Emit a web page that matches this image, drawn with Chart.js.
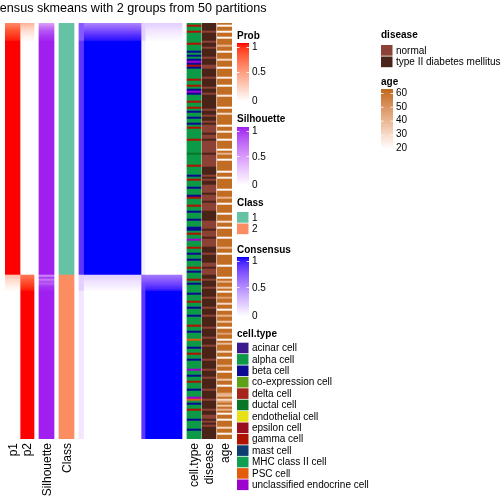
<!DOCTYPE html>
<html>
<head>
<meta charset="utf-8">
<script src="https://cdn.jsdelivr.net/npm/chart.js@4.4.1/dist/chart.umd.min.js"></script>
<style>
  html, body { margin: 0; padding: 0; background: #fff; }
</style>
</head>
<body>
<canvas id="chart" width="504" height="504"></canvas>
<script>
// ---- data ----
const titleText = 'Consensus skmeans with 2 groups from 50 partitions';
const groupSizes = [126, 82];
const classLabels = ['1', '2'];

// values are run-length encoded: [number of rows, value], top to bottom
const prob1Runs = [[1,0.62],[1,0.68],[1,0.74],[1,0.8],[1,0.84],[1,0.88],[1,0.91],[1,0.94],[1,0.96],[117,1],
                   [1,0.3],[1,0.26],[1,0.2],[1,0.17],[1,0.12],[1,0.09],[1,0.06],[1,0.03],[74,0]];
const prob2Runs = [[1,0.38],[1,0.32],[1,0.26],[1,0.2],[1,0.16],[1,0.12],[1,0.09],[1,0.06],[1,0.04],[117,0],
                   [1,0.7],[1,0.74],[1,0.8],[1,0.83],[1,0.88],[1,0.91],[1,0.94],[1,0.97],[74,1]];
const silhouetteRuns = [[1,0.5],[1,0.6],[1,0.7],[1,0.78],[1,0.84],[1,0.88],[1,0.92],[1,0.95],[1,0.97],[117,1],
                        [1,0.62],[1,0.9],[1,0.7],[1,0.85],[1,0.8],[1,0.92],[1,0.96],[1,0.98],[74,1]];
// consensus matrix, four column blocks (weak / strong members of group 1, then group 2)
const consensusA = [[9,0.72],[117,0.86],[8,0.2],[74,0.1]];
const consensusB = [[1,0.55],[1,0.62],[1,0.68],[1,0.74],[1,0.8],[1,0.85],[1,0.9],[1,0.93],[1,0.96],[117,1],
                    [1,0.2],[1,0.18],[1,0.15],[1,0.12],[1,0.1],[1,0.08],[1,0.05],[1,0.03],[74,0]];
const consensusC = [[9,0.2],[117,0.06],[1,0.62],[1,0.66],[1,0.7],[1,0.74],[1,0.78],[1,0.8],[1,0.82],[1,0.84],[74,0.86]];
const consensusD = [[1,0.2],[1,0.18],[1,0.15],[1,0.12],[1,0.1],[1,0.08],[1,0.06],[1,0.04],[1,0.02],[117,0],
                    [1,0.6],[1,0.65],[1,0.7],[1,0.75],[1,0.8],[1,0.85],[1,0.9],[1,0.95],[74,1]];

// one character per row
const cellTypeCodes =
  'AGAAGAAAAA' + 'GAAABABABN' + 'BGBAAAAAGA' + 'AGABNBAAAG' + 'AAGABAABAA' +
  'BAGAAAAAGA' + 'AAAAAUAAAA' + 'AGAAAABAGA' + 'AABAAABGAA' + 'AGAABAAABA' +
  'AABBAGAANA' + 'AAGAABAABA' + 'AAGABA' +
  'AAGABAAAAB' + 'AAAGAABAAA' + 'BAAAAGAABA' + 'AASAAABAAG' + 'AABAAAANAA' +
  'BAAGAAABAA' + 'ANSABAAGAA' + 'AABAAAABAA' + 'AA';
const diseaseCodes =
  'TTTTNTTTTN' + 'TTNTTTTNTT' + 'TNNTTTTNTT' + 'TTNTTNTTTT' + 'TTTNTTNTTN' +
  'TNNNNTNNTN' + 'NNNNNTNNNN' + 'NNTTTTNTNT' + 'TNNNNTNNNT' + 'NNNNTTTTTN' +
  'NNNTNNNTNN' + 'NNTTTNTTTT' + 'NNTNNN' +
  'TTNTTTNTTT' + 'TNTTTTNTTT' + 'NTTTTTNTTT' + 'TNTTTNTTTT' + 'TTNTTTTNTT' +
  'TNTTTTTNTT' + 'TTNTTTTNTT' + 'NNTNTNTTTT' + 'TT';
const ages = [
  59,22,59,59,23,59,59,22,59,59, 59,40,59,59,22,59,59,59,30,59, 59,59,22,59,59,59,59,25,59,59,
  59,22,59,59,59,59,26,59,59,59, 59,59,22,59,59,30,59,59,59,59, 59,22,59,59,24,59,59,59,22,59,
  59,59,59,22,59,40,59,59,22,59, 59,59,59,59,22,59,59,24,59,59, 59,59,59,22,59,59,59,40,59,59,
  22,59,59,59,59,22,59,59,59,28, 59,59,22,59,59,59,59,22,59,59, 59,59,40,59,59,22,59,59,59,59,
  59,22,59,59,59,59,
  59,22,59,40,59,59,35,59,22,59, 59,45,59,59,30,59,59,22,59,59, 40,59,59,35,59,59,22,59,59,45,
  59,59,22,59,38,59,59,59,30,59, 59,22,59,59,59,40,59,59,22,59, 59,59,35,59,59,22,59,59,59,42,
  38,59,30,45,59,35,59,40,59,22, 59,59,22,59,59,59,30,59,59,22, 59,59
];

const cellTypeNames = ['acinar cell','alpha cell','beta cell','co-expression cell','delta cell','ductal cell',
  'endothelial cell','epsilon cell','gamma cell','mast cell','MHC class II cell','PSC cell','unclassified endocrine cell'];
const cellTypeKeys = ['a','A','B','X','D','U','E','P','G','M','H','S','N'];
const cellTypeColors = ['#3A1A8C','#0D9A48','#0A0A92','#5EA018','#A5251A','#097526',
  '#E8E016','#9A0E22','#B01200','#0C3C70','#0F9E52','#E25C0C','#9C04CE'];
const diseaseNames = ['normal', 'type II diabetes mellitus'];
const diseaseKeys = ['N', 'T'];
const diseaseColors = ['#8C4236', '#4A2418'];
const ageBreaks = [20, 30, 40, 50, 60];

// ---- colour helpers (Lab interpolation, like colorRamp2) ----
function hexRgb(h) { h = h.replace('#',''); return [0,2,4].map(i => parseInt(h.substr(i,2),16)); }
function toLin(c) { c /= 255; return c <= 0.04045 ? c/12.92 : Math.pow((c+0.055)/1.055, 2.4); }
function fromLin(c) { c = c <= 0.0031308 ? 12.92*c : 1.055*Math.pow(c,1/2.4)-0.055; return Math.max(0,Math.min(255,Math.round(c*255))); }
function rgbLab(rgb) {
  const [r,g,b] = rgb.map(toLin);
  let x = (0.4124*r + 0.3576*g + 0.1805*b)/0.95047, y = 0.2126*r + 0.7152*g + 0.0722*b, z = (0.0193*r + 0.1192*g + 0.9505*b)/1.08883;
  const f = t => t > 0.008856 ? Math.cbrt(t) : 7.787*t + 16/116;
  x = f(x); y = f(y); z = f(z);
  return [116*y-16, 500*(x-y), 200*(y-z)];
}
function labRgb([L,a,bb]) {
  let y = (L+16)/116, x = a/500 + y, z = y - bb/200;
  const fi = t => t*t*t > 0.008856 ? t*t*t : (t - 16/116)/7.787;
  x = fi(x)*0.95047; y = fi(y); z = fi(z)*1.08883;
  const r = 3.2406*x - 1.5372*y - 0.4986*z, g = -0.9689*x + 1.8758*y + 0.0415*z, b = 0.0557*x - 0.2040*y + 1.0570*z;
  return [fromLin(r), fromLin(g), fromLin(b)];
}
function ramp(c0, c1) {
  const l0 = rgbLab(hexRgb(c0)), l1 = rgbLab(hexRgb(c1));
  return t => { t = Math.max(0, Math.min(1, t)); const c = labRgb(l0.map((v,i) => v + (l1[i]-v)*t)); return `rgb(${c[0]},${c[1]},${c[2]})`; };
}
const probCol = ramp('#FFFFFF', '#FF0000');
const silCol = ramp('#FFFFFF', '#A020F0');
const consCol = ramp('#FFFFFF', '#0000FF');
const ageRamp = ramp('#FFFFFF', '#C0691E');
const ageCol = a => ageRamp((a - 20) / 40);
const classColors = ['#66C2A5', '#FC8D62'];

function expand(runs) { const out = []; runs.forEach(([n, v]) => { for (let i = 0; i < n; i++) out.push(v); }); return out; }

const nRows = groupSizes[0] + groupSizes[1];
const classOfRow = [];
groupSizes.forEach((n, g) => { for (let i = 0; i < n; i++) classOfRow.push(g); });

// ---- layout of heatmap columns (x in pixel units of the body) ----
const columns = [
  { label: 'p1', x: 7.5, w: 15, colors: expand(prob1Runs).map(probCol) },
  { label: 'p2', x: 22, w: 14, colors: expand(prob2Runs).map(probCol) },
  { label: 'Silhouette', x: 41.5, w: 15, colors: expand(silhouetteRuns).map(silCol) },
  { label: 'Class', x: 61.5, w: 15, colors: classOfRow.map(g => classColors[g]) },
  { label: null, x: 76.25, w: 4.5, colors: expand(consensusA).map(consCol) },
  { label: null, x: 107.25, w: 57.5, colors: expand(consensusB).map(consCol) },
  { label: null, x: 138, w: 4, colors: expand(consensusC).map(consCol) },
  { label: null, x: 158.5, w: 37, colors: expand(consensusD).map(consCol) },
  { label: 'cell.type', x: 189, w: 14, colors: cellTypeCodes.split('').slice(0, nRows).map(k => cellTypeColors[cellTypeKeys.indexOf(k)]) },
  { label: 'disease', x: 204, w: 14, colors: diseaseCodes.split('').slice(0, nRows).map(k => diseaseColors[diseaseKeys.indexOf(k)]) },
  { label: 'age', x: 219.6, w: 14.5, colors: ages.slice(0, nRows).map(ageCol) }
];
const tickCols = columns.filter(c => c.label);

const datasets = columns.map(col => ({
  label: col.label || 'consensus',
  data: col.colors.map((_, i) => ({ x: col.x, y: [i, i + 1] })),
  backgroundColor: col.colors,
  barThickness: col.w,
  borderWidth: 0,
  borderSkipped: false,
  inflateAmount: 0.3,
  grouped: false
}));

// ---- legends and title ----
const FONT = '"Liberation Sans", Arial, Helvetica, sans-serif';
function gradLegend(ctx, title, x, ty, y0, y1, colAt, labels) {
  ctx.font = `bold 10px ${FONT}`; ctx.fillStyle = '#000'; ctx.textBaseline = 'middle'; ctx.textAlign = 'left';
  ctx.fillText(title, x, ty);
  for (let yy = y0; yy < y1; yy++) { ctx.fillStyle = colAt(1 - (yy - y0) / (y1 - y0)); ctx.fillRect(x, yy, 12, 1); }
  ctx.font = `10px ${FONT}`;
  labels.forEach(([t, ly, tickY]) => {
    ctx.fillStyle = '#000'; ctx.fillText(t, x + 15, ly);
    if (tickY !== null) {
      ctx.fillStyle = 'rgba(255,255,255,0.8)';
      ctx.fillRect(x, tickY, 2.5, 1); ctx.fillRect(x + 9.5, tickY, 2.5, 1);
    }
  });
}
function swatchLegend(ctx, title, x, ty, y0, pitch, names, colors) {
  ctx.font = `bold 10px ${FONT}`; ctx.fillStyle = '#000'; ctx.textBaseline = 'middle'; ctx.textAlign = 'left';
  ctx.fillText(title, x, ty);
  ctx.font = `10px ${FONT}`;
  names.forEach((n, i) => {
    const y = y0 + i * pitch;
    ctx.fillStyle = colors[i]; ctx.fillRect(x, y, 11.5, pitch - 0.8);
    ctx.fillStyle = '#000'; ctx.fillText(n, x + 15, y + pitch / 2);
  });
}

const annotations = {
  id: 'annotations',
  afterDraw(chart) {
    const ctx = chart.ctx, area = chart.chartArea;
    ctx.save();
    ctx.font = `12.6px ${FONT}`; ctx.fillStyle = '#000'; ctx.textAlign = 'center'; ctx.textBaseline = 'middle';
    ctx.fillText(titleText, (area.left + area.right) / 2, 9);
    gradLegend(ctx, 'Prob', 237, 36, 43, 101, probCol, [['1', 47, 47], ['0.5', 72.5, 72], ['0', 101, null]]);
    gradLegend(ctx, 'Silhouette', 237, 119, 127, 185, silCol, [['1', 131, 131], ['0.5', 157, 156], ['0', 185, null]]);
    swatchLegend(ctx, 'Class', 237, 203, 212, 11.5, classLabels, classColors);
    gradLegend(ctx, 'Consensus', 237, 250, 257, 316, consCol, [['1', 261, 261], ['0.5', 288, 287], ['0', 316, null]]);
    swatchLegend(ctx, 'cell.type', 237, 334.5, 342.7, 11.4, cellTypeNames, cellTypeColors);
    swatchLegend(ctx, 'disease', 381, 35, 45, 11.5, diseaseNames, diseaseColors);
    gradLegend(ctx, 'age', 381, 82, 89, 148, t => ageRamp(t),
      ageBreaks.slice().reverse().map((b, i) => [String(b), 93 + i * 13.8, i < 4 ? 93 + i * 13.8 : null]));
    ctx.restore();
  }
};

new Chart(document.getElementById('chart'), {
  type: 'bar',
  data: { datasets },
  options: {
    responsive: false,
    animation: false,
    events: [],
    layout: { padding: { top: 23, left: 5, right: 272, bottom: 0 } },
    plugins: { legend: { display: false }, title: { display: false }, tooltip: { enabled: false } },
    scales: {
      x: {
        type: 'linear', min: 0, max: 227, offset: false,
        grid: { display: false, drawTicks: false, offset: false }, border: { display: false },
        afterBuildTicks: s => { s.ticks = tickCols.map(c => ({ value: c.x })); },
        afterFit: s => { s.height = 65; },
        ticks: {
          autoSkip: false, minRotation: 90, maxRotation: 90, padding: 4, color: '#000',
          labelOffset: 1,
          font: { family: FONT, size: 12 },
          callback: (v, i) => tickCols[i] ? tickCols[i].label : ''
        }
      },
      y: { type: 'linear', reverse: true, min: 0, max: nRows, display: false, offset: false }
    }
  },
  plugins: [annotations]
});
</script>
</body>
</html>
